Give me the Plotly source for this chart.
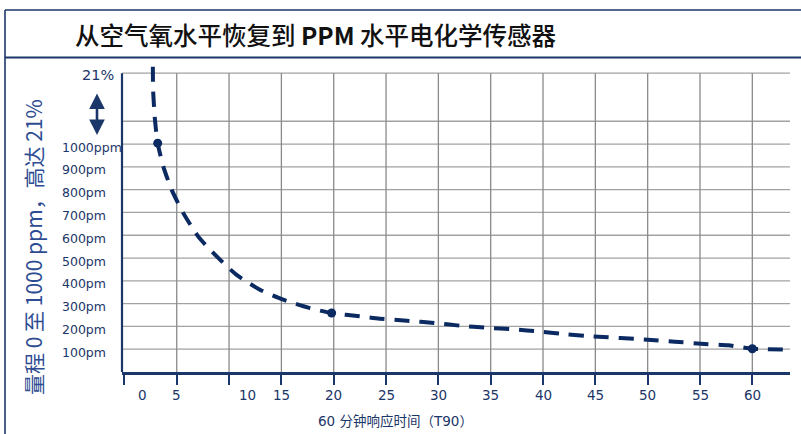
import plotly.graph_objects as go

# ---------------- data ----------------
TITLE_TEXT = "从空气氧水平恢复到 <b>PPM</b> 水平电化学传感器"
Y_TITLE = "量程 0 至 1000 ppm，高达 21%"
X_TITLE = "60 分钟响应时间（T90）"

curve_x = [2.72, 2.74, 2.92, 3.18, 3.72, 4.52, 5.63, 7.06, 8.82, 10.72, 12.95, 15.18,
           17.73, 19.8, 22.5, 24.4, 27.0, 29.6, 32.1, 34.6, 37.2, 39.7, 42.3, 44.8,
           50.0, 52.6, 55.1, 57.7, 60.0, 63.6]
curve_y = [1339, 1237, 1106, 1004, 901, 799, 697, 594, 507, 426, 361, 317,
           280, 259, 244, 234, 225, 215, 203, 194, 187, 177, 165, 156,
           142, 133, 124, 117, 102, 98]

marker_x = [3.18, 19.8, 60.0]
marker_y = [1004, 259, 102]

y_grid_vals = [100, 200, 300, 400, 500, 600, 700, 800, 900, 1000, 1100]
y_top_level = 1311          # the "21%" line
y_label_vals = [100, 200, 300, 400, 500, 600, 700, 800, 900, 1000]
y_label_text = ["100pm", "200pm", "300pm", "400pm", "500pm", "600pm",
                "700pm", "800pm", "900pm", "1000ppm"]
top_label = "21%"

x_tick_vals = [0, 5, 10, 15, 20, 25, 30, 35, 40, 45, 50, 55, 60]
x_tick_text = ["0", "5", "10", "15", "20", "25", "30", "35", "40", "45", "50", "55", "60"]
x_label_shift = {"0": 18, "10": 18}   # pixel nudges as in the original artwork

# ---------------- style ----------------
W, H = 801, 434
ML, MR, MT, MB = 122, 11, 62, 62
NAVY = "#1b3668"
CURVE = "#0b2a62"
YT_BLUE = "#2d4c92"
GRID_V = "#8a8a8a"
GRID_H = "#a2a2a2"
LAT = "DejaVu Sans, Noto Sans CJK SC"
CJK = "Noto Sans CJK SC, DejaVu Sans"

PW, PH = W - ML - MR, H - MT - MB
def px(xp):  # pixel -> paper x
    return (xp - ML) / PW
def py(yp):  # pixel -> paper y
    return (H - MB - yp) / PH

X_RANGE = [-0.23, 63.6]
Y_RANGE = [0, 1360]

fig = go.Figure()

fig.add_trace(go.Scatter(x=curve_x, y=curve_y, mode="lines",
                         line=dict(color=CURVE, width=4, dash="15px,10px", shape="spline", smoothing=0.6),
                         hoverinfo="skip", showlegend=False))
fig.add_trace(go.Scatter(x=marker_x, y=marker_y, mode="markers",
                         marker=dict(color=CURVE, size=9), showlegend=False))

shapes = []
for v in x_tick_vals[1:]:
    shapes.append(dict(type="line", xref="x", yref="y", x0=v, x1=v, y0=0, y1=y_top_level,
                       line=dict(color=GRID_V, width=1.3), layer="below"))
for v in y_grid_vals + [y_top_level]:
    shapes.append(dict(type="line", xref="paper", yref="y", x0=0, x1=1, y0=v, y1=v,
                       line=dict(color=GRID_H, width=1.3), layer="below"))
shapes.append(dict(type="line", xref="paper", yref="y", x0=0, x1=0, y0=0, y1=y_top_level,
                   line=dict(color=NAVY, width=2.2)))
# frame
shapes.append(dict(type="line", xref="paper", yref="paper", x0=px(5), x1=px(W + 5), y0=py(10), y1=py(10),
                   line=dict(color=NAVY, width=1.6)))
shapes.append(dict(type="line", xref="paper", yref="paper", x0=px(5), x1=px(W + 5), y0=py(57.5), y1=py(57.5),
                   line=dict(color=NAVY, width=1.8)))
shapes.append(dict(type="line", xref="paper", yref="paper", x0=px(5), x1=px(5), y0=py(10), y1=py(H + 5),
                   line=dict(color=NAVY, width=1.6)))

ann = []
ann.append(dict(text=TITLE_TEXT, xref="paper", yref="paper", x=px(315), y=py(35),
                xanchor="center", yanchor="middle", showarrow=False,
                font=dict(family=CJK, size=24.5, color="#111111", weight=500)))
for v, t in zip(y_label_vals, y_label_text):
    ann.append(dict(text=t, xref="paper", yref="y", x=px(60), y=v, yshift=-3,
                    xanchor="left", yanchor="middle", showarrow=False,
                    font=dict(family=LAT, size=12.5, color=NAVY)))
ann.append(dict(text=top_label, xref="paper", yref="y", x=px(80), y=y_top_level, yshift=-2,
                xanchor="left", yanchor="middle", showarrow=False,
                font=dict(family=LAT, size=14.5, color=NAVY)))
for v, t in zip(x_tick_vals, x_tick_text):
    ann.append(dict(text=t, xref="x", yref="paper", x=v, y=0, yshift=-13,
                    xshift=x_label_shift.get(t, 0),
                    xanchor="center", yanchor="top", showarrow=False,
                    font=dict(family=LAT, size=13.5, color=NAVY)))
ann.append(dict(text=X_TITLE, xref="paper", yref="paper", x=px(395), y=py(421),
                xanchor="center", yanchor="middle", showarrow=False,
                font=dict(family=LAT, size=13.5, color=NAVY)))
ann.append(dict(text=Y_TITLE, xref="paper", yref="paper", x=px(33), y=py(247),
                xanchor="center", yanchor="middle", showarrow=False, textangle=-90,
                font=dict(family=CJK, size=21, color=YT_BLUE)))
ann.append(dict(text="", xref="paper", yref="paper", x=px(97), y=py(135),
                axref="pixel", ayref="pixel", ax=0, ay=-43,
                showarrow=True, arrowside="end+start", arrowhead=2,
                arrowsize=1.2, arrowwidth=2.6, arrowcolor=NAVY))

fig.update_layout(
    width=W, height=H,
    margin=dict(l=ML, r=MR, t=MT, b=MB),
    paper_bgcolor="white", plot_bgcolor="white",
    showlegend=False,
    shapes=shapes, annotations=ann,
    xaxis=dict(range=X_RANGE, showgrid=False, zeroline=False,
               showline=True, linecolor=NAVY, linewidth=2.6,
               tickmode="array", tickvals=x_tick_vals, showticklabels=False,
               ticks="outside", ticklen=10, tickwidth=2, tickcolor=NAVY),
    yaxis=dict(range=Y_RANGE, showgrid=False, zeroline=False, showline=False,
               showticklabels=False, ticks=""),
)

fig.write_html("out.html", config={"displayModeBar": False},
               post_script="document.body.style.margin='0';document.body.style.overflow='hidden';")
